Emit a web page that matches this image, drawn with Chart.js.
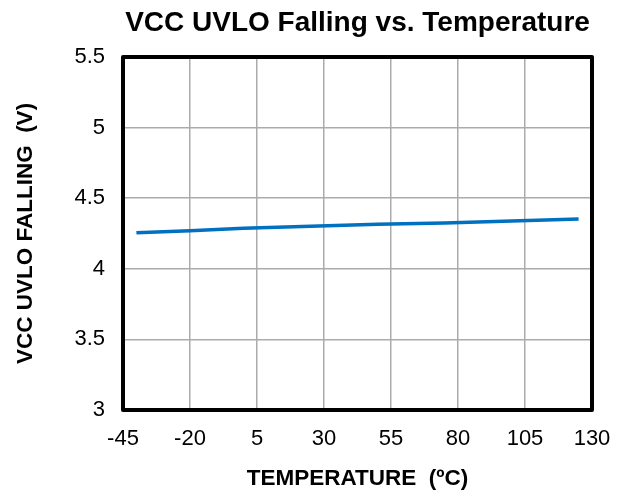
<!DOCTYPE html>
<html>
<head>
<meta charset="utf-8">
<script src="https://cdn.jsdelivr.net/npm/chart.js@4.4.1/dist/chart.umd.min.js"></script>
<style>
  html, body { margin: 0; padding: 0; background: #fff; }
  #wrap { width: 623px; height: 495px; }
</style>
</head>
<body>
<div id="wrap"><canvas id="uvloChart" width="623" height="495"></canvas></div>
<script>
// values
const temperatures = [-40, -20, 0, 25, 50, 75, 100, 125];
const uvloFalling = [4.255, 4.27, 4.288, 4.302, 4.315, 4.325, 4.338, 4.353];

const xMin = -45, xMax = 130, xStep = 25;
const yMin = 3, yMax = 5.5, yStep = 0.5;

const chartTitle = 'VCC UVLO Falling vs. Temperature';
const xTitle = 'TEMPERATURE  (\u00BAC)';
const yTitle = 'VCC UVLO FALLING  (V)';

// thick black box round the plot area
const frame = {
    id: 'frame',
    afterDraw(chart) {
        const { ctx, chartArea: a } = chart;
        ctx.save();
        ctx.strokeStyle = '#000';
        ctx.lineWidth = 4;
        ctx.lineJoin = 'round';
        ctx.strokeRect(a.left, a.top, a.right - a.left, a.bottom - a.top);
        ctx.restore();
    }
};

const font = 'Liberation Sans, Arial, sans-serif';

new Chart(document.getElementById('uvloChart').getContext('2d'), {
    type: 'line',
    data: {
        datasets: [{
            data: temperatures.map((t, i) => ({ x: t, y: uvloFalling[i] })),
            borderColor: '#0070C0',
            borderWidth: 3.5,
            pointRadius: 0,
            fill: false
        }]
    },
    options: {
        responsive: false,
        animation: false,
        layout: { padding: { left: 0, right: 31, top: 0, bottom: 0 } },
        plugins: {
            legend: { display: false },
            tooltip: { enabled: false },
            title: {
                display: true,
                text: chartTitle,
                fullSize: false,
                color: '#000',
                font: { family: font, size: 28, weight: 'bold' },
                padding: { top: 6, bottom: 17.4 }
            }
        },
        scales: {
            x: {
                type: 'linear',
                min: xMin,
                max: xMax,
                afterFit(scale) {
                    scale.height = 85;
                    scale.paddingLeft = 0;
                    scale.paddingRight = 0;
                },
                ticks: {
                    stepSize: xStep,
                    color: '#000',
                    padding: 16,
                    maxRotation: 0,
                    font: { family: font, size: 22 },
                    callback: v => String(v)
                },
                grid: { color: '#ababab', lineWidth: 1.5, drawTicks: false },
                border: { display: false },
                title: {
                    display: true,
                    text: xTitle,
                    color: '#000',
                    font: { family: font, size: 22.5, weight: 'bold' },
                    padding: { top: 0, bottom: 2.5 }
                }
            },
            y: {
                min: yMin,
                max: yMax,
                afterFit(scale) { scale.width = 123; },
                ticks: {
                    stepSize: yStep,
                    color: '#000',
                    padding: 18,
                    font: { family: font, size: 22 },
                    callback: v => String(v)
                },
                grid: { color: '#ababab', lineWidth: 1.5, drawTicks: false },
                border: { display: false },
                title: {
                    display: true,
                    text: yTitle,
                    color: '#000',
                    font: { family: font, size: 22.5, weight: 'bold' },
                    padding: { top: 12.5, bottom: 0 }
                }
            }
        }
    },
    plugins: [frame]
});
</script>
</body>
</html>
